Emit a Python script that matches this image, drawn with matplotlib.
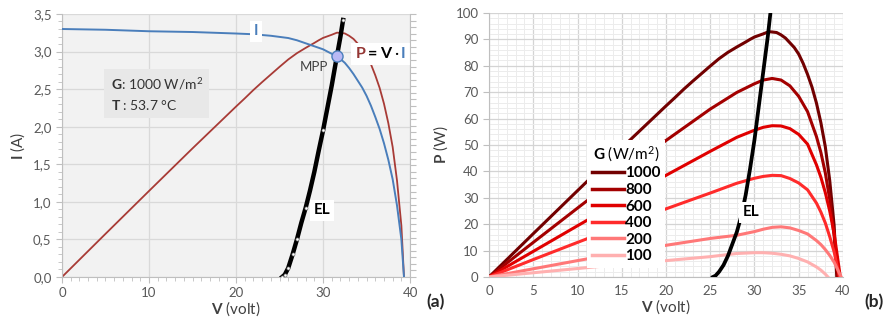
import matplotlib.pyplot as plt
from matplotlib.ticker import MultipleLocator, FuncFormatter
from matplotlib.offsetbox import TextArea, HPacker, AnnotationBbox
from matplotlib.lines import Line2D

plt.rcParams['font.family'] = ['Lato', 'DejaVu Sans']
plt.rcParams['mathtext.fontset'] = 'custom'
plt.rcParams['mathtext.rm'] = 'Lato'
plt.rcParams['mathtext.bf'] = 'Lato:bold'
plt.rcParams['mathtext.it'] = 'Lato:italic'

# ---- data ----
# I-V and P-V curve at 1000 W/m2 (panel a, and top curve of panel b)
v_1000 = [0, 5, 10, 15, 20, 21, 22, 23, 24, 25, 26, 27, 28, 29, 29.5, 30, 30.5, 31,
          31.6, 32, 32.5, 33, 33.5, 34, 34.5, 35, 35.5, 36, 36.5, 37, 37.5, 38,
          38.5, 39, 39.3]
i_1000 = [3.30, 3.29, 3.27, 3.26, 3.24, 3.235, 3.23, 3.22, 3.21, 3.195, 3.18, 3.15,
          3.11, 3.07, 3.05, 3.03, 3.00, 2.97, 2.94, 2.90, 2.85, 2.78, 2.70, 2.61,
          2.52, 2.41, 2.28, 2.13, 1.97, 1.78, 1.56, 1.30, 0.95, 0.50, 0.0]
p_1000 = [0, 16.4, 32.7, 48.9, 64.8, 67.9, 71.1, 74.1, 77.0, 79.9, 82.7, 85.1,
          87.1, 89.0, 90.0, 90.9, 91.5, 92.1, 92.9, 92.8, 92.6, 91.7, 90.5, 88.7,
          86.9, 84.4, 80.9, 76.7, 71.9, 65.9, 58.5, 49.4, 36.6, 19.5, 0]

# EL curve in panel a (current)
v_el_a = [25.3, 25.6, 26, 26.5, 27, 27.5, 28, 28.5, 29, 29.5, 30, 30.5, 31, 31.5,
          32, 32.3]
i_el_a = [0, 0.03, 0.12, 0.30, 0.50, 0.72, 0.92, 1.15, 1.40, 1.68, 1.95, 2.25,
          2.55, 2.88, 3.20, 3.42]
mpp_v = 31.6
mpp_i = 2.94

# panel b: power curves for other irradiances
v_800 = [0, 5, 10, 15, 20, 25, 28, 30, 31, 32, 33, 34, 35, 36, 37, 37.5, 38, 38.5, 39, 39.4]
p_800 = [0, 13.1, 26.1, 39.0, 51.7, 63.6, 69.9, 73.2, 74.6, 75.2, 74.6, 72.4, 68.4,
         62.6, 53.2, 47.2, 39.5, 29.5, 15.5, 0]
v_600 = [0, 5, 10, 15, 20, 25, 28, 30, 31, 32, 33, 34, 35, 36, 37, 37.5, 38, 38.5, 39, 39.7]
p_600 = [0, 9.7, 19.4, 29.0, 38.5, 47.6, 52.9, 55.6, 56.7, 57.3, 57.2, 56.2, 54.0,
         50.3, 42.5, 37.8, 32.0, 25.0, 16.5, 0]
v_400 = [0, 5, 10, 15, 20, 25, 28, 30, 31, 32, 33, 34, 35, 36, 37, 37.5, 38, 38.5, 39, 39.6]
p_400 = [0, 6.6, 13.1, 19.5, 25.8, 31.8, 35.5, 37.4, 38.1, 38.5, 38.4, 37.3, 35.6,
         33.0, 28.0, 24.6, 20.5, 15.3, 9.5, 0]
v_200 = [0, 5, 10, 15, 20, 25, 28, 30, 31, 32, 33, 34, 35, 36, 37, 37.5, 38, 38.5, 39, 39.8]
p_200 = [0, 3.1, 6.2, 9.2, 12.0, 14.6, 15.8, 17.2, 18.1, 18.8, 19.0, 18.6, 17.6,
         16.3, 13.8, 12.3, 10.4, 8.2, 5.6, 0]
v_100 = [0, 5, 10, 15, 20, 25, 28, 30, 31, 32, 33, 34, 35, 36, 37, 37.5, 38, 38.3]
p_100 = [0, 1.6, 3.2, 4.8, 6.2, 7.7, 8.9, 9.2, 9.2, 9.0, 8.6, 8.0, 7.0, 5.7, 3.8,
         2.6, 1.1, 0]

# EL curve in panel b (power)
v_el_b = [25.3, 25.6, 26, 26.5, 27, 27.5, 28, 28.5, 29, 29.5, 30, 30.5, 31, 31.5, 31.8]
p_el_b = [0, 0.5, 2, 4.5, 8, 12.5, 17, 23, 31, 41, 52, 65, 78, 91, 100]

g_labels = ['1000', '800', '600', '400', '200', '100']
g_colors = ['#720000', '#a30000', '#e00000', '#ff2b2b', '#ff7878', '#ffb0b0']

grey_txt = '#595959'
spine_c = '#bfbfbf'

fig = plt.figure(figsize=(8.88, 3.22), dpi=100)

# ---------------- panel (a) ----------------
ax1 = fig.add_axes([0.0698, 0.1398, 0.392, 0.8168])
ax1.set_facecolor('#f2f2f2')
ax1b = ax1.twinx()
ax1b.set_ylim(0, 100)
ax1b.yaxis.set_major_locator(MultipleLocator(2.5))
ax1b.tick_params(axis='y', length=4, color=spine_c, labelright=False)
for s in ['top', 'left', 'bottom']:
    ax1b.spines[s].set_visible(False)
ax1b.spines['right'].set_color(spine_c)

# P curve drawn in ax1 but scaled by the secondary (0-100 W) axis
ax1.plot(v_1000, p_1000, color='#a83b36', lw=1.3, transform=ax1b.transData, zorder=2)
ax1.plot(v_1000, i_1000, color='#4a7ebb', lw=1.4, zorder=3)
ax1.plot(v_el_a, i_el_a, color='black', lw=3.2, zorder=4, marker='o', ms=2.2,
         mfc='white', mec='#808080', mew=0.5, markevery=[0, 1, 2, 3, 4, 6, 10, 15])
ax1.plot(mpp_v, mpp_i, 'o', ms=8, mfc='#b8b8f5', mec='#4a7ebb', mew=1, zorder=6)

ax1.set_xlim(0, 40)
ax1.set_ylim(0, 3.5)
ax1.xaxis.set_major_locator(MultipleLocator(10))
ax1.xaxis.set_minor_locator(MultipleLocator(1))
ax1.yaxis.set_major_locator(MultipleLocator(0.5))
ax1.yaxis.set_minor_locator(MultipleLocator(0.1))
ax1.yaxis.set_major_formatter(FuncFormatter(lambda y, _: f"{y:.1f}".replace('.', ',')))
ax1.grid(True, which='major', color='#d9d9d9', lw=0.9)
ax1.set_axisbelow(True)
ax1.tick_params(which='both', direction='out', color=spine_c, labelcolor=grey_txt,
                labelsize=9.5)
ax1.tick_params(which='major', length=4)
ax1.tick_params(which='minor', length=3)
ax1.spines['top'].set_visible(False)
ax1.spines['right'].set_visible(False)
ax1.spines['left'].set_color(spine_c)
ax1.spines['bottom'].set_color(spine_c)
ax1.set_ylabel(r"$\mathbf{I}$ (A)", size=11, color='#404040', labelpad=4)
ax1.set_xlabel(r"$\mathbf{V}$ (volt)", size=11, color='#404040', labelpad=0)

ax1.text(22.3, 3.27, 'I', color='#4a7ebb', weight='bold', size=11, ha='center',
         va='center', zorder=5, bbox=dict(fc='white', ec='none', pad=2.5))
ax1.text(28.9, 2.80, 'MPP', size=9.5, color='#404040', ha='center', va='center', zorder=5)
ax1.text(29.9, 0.89, 'EL', weight='bold', size=11, ha='center', va='center',
         zorder=5, bbox=dict(fc='white', ec='none', pad=2.5))
ax1.text(5.6, 2.44, r"$\mathbf{G}$: 1000 W/m$^2$" + "\n" + r"$\mathbf{T}$ : 53.7 °C",
         size=10, color='#333333', ha='left', va='center', linespacing=1.5, zorder=5,
         bbox=dict(fc='#e8e8e8', ec='none', pad=4.5))

parts = [('P', '#943634', 'bold'), ('=', 'black', 'bold'), ('V', 'black', 'bold'),
         ('·', 'black', 'normal'), ('I', '#4a7ebb', 'bold')]
areas = [TextArea(t, textprops=dict(color=c, weight=w, size=11.5)) for t, c, w in parts]
pack = HPacker(children=areas, pad=0, sep=2)
ab = AnnotationBbox(pack, (36.6, 2.97), xycoords='data', frameon=True,
                    bboxprops=dict(fc='white', ec='none'), pad=0.3, zorder=5)
ax1.add_artist(ab)

fig.text(0.491, 0.062, '(a)', weight='bold', size=12.5, ha='center', va='center', color='#262626')

# ---------------- panel (b) ----------------
ax2 = fig.add_axes([0.5507, 0.1398, 0.3986, 0.8199])
curves_v = [v_1000, v_800, v_600, v_400, v_200, v_100]
curves_p = [p_1000, p_800, p_600, p_400, p_200, p_100]
handles = []
for vv, pp, col, lab in zip(curves_v, curves_p, g_colors, g_labels):
    ax2.plot(vv, pp, color=col, lw=2.2, zorder=3)
    handles.append(Line2D([], [], color=col, lw=2.5))
ax2.plot(v_el_b, p_el_b, color='black', lw=2.7, zorder=4)

ax2.set_xlim(0, 40)
ax2.set_ylim(0, 100)
ax2.xaxis.set_major_locator(MultipleLocator(5))
ax2.xaxis.set_minor_locator(MultipleLocator(1))
ax2.yaxis.set_major_locator(MultipleLocator(10))
ax2.yaxis.set_minor_locator(MultipleLocator(2))
ax2.grid(True, which='major', color='#d4d4d4', lw=0.9)
ax2.grid(True, which='minor', color='#ececec', lw=0.7)
ax2.set_axisbelow(True)
ax2.tick_params(which='major', direction='out', length=4, color=spine_c,
                labelcolor=grey_txt, labelsize=9.5)
ax2.tick_params(which='minor', length=0)
ax2.tick_params(axis='x', which='major', length=0, pad=6)
ax2.spines['top'].set_visible(False)
ax2.spines['right'].set_visible(False)
ax2.spines['left'].set_color(spine_c)
ax2.spines['bottom'].set_color(spine_c)
ax2.set_ylabel(r"$\mathbf{P}$ (W)", size=11, color='#404040', labelpad=4)
ax2.set_xlabel(r"$\mathbf{V}$ (volt)", size=11, color='#404040', labelpad=0)

ax2.text(29.6, 24.5, 'EL', weight='bold', size=11, ha='center', va='center',
         zorder=5, bbox=dict(fc='white', ec='none', pad=2.5))

leg = ax2.legend(handles, g_labels, title=r"$\mathbf{G}$ (W/m$^2$)", loc='lower left',
                 bbox_to_anchor=(0.255, 0.005), frameon=True, facecolor='white',
                 edgecolor='none', framealpha=1, fancybox=False,
                 prop=dict(weight='bold', size=11), title_fontsize=11,
                 handlelength=2.1, handletextpad=0.1, labelspacing=0.17, borderpad=0.3)
leg.set_zorder(6)

fig.text(0.984, 0.062, '(b)', weight='bold', size=12.5, ha='center', va='center', color='#262626')

fig.savefig('out.png', dpi=100)
